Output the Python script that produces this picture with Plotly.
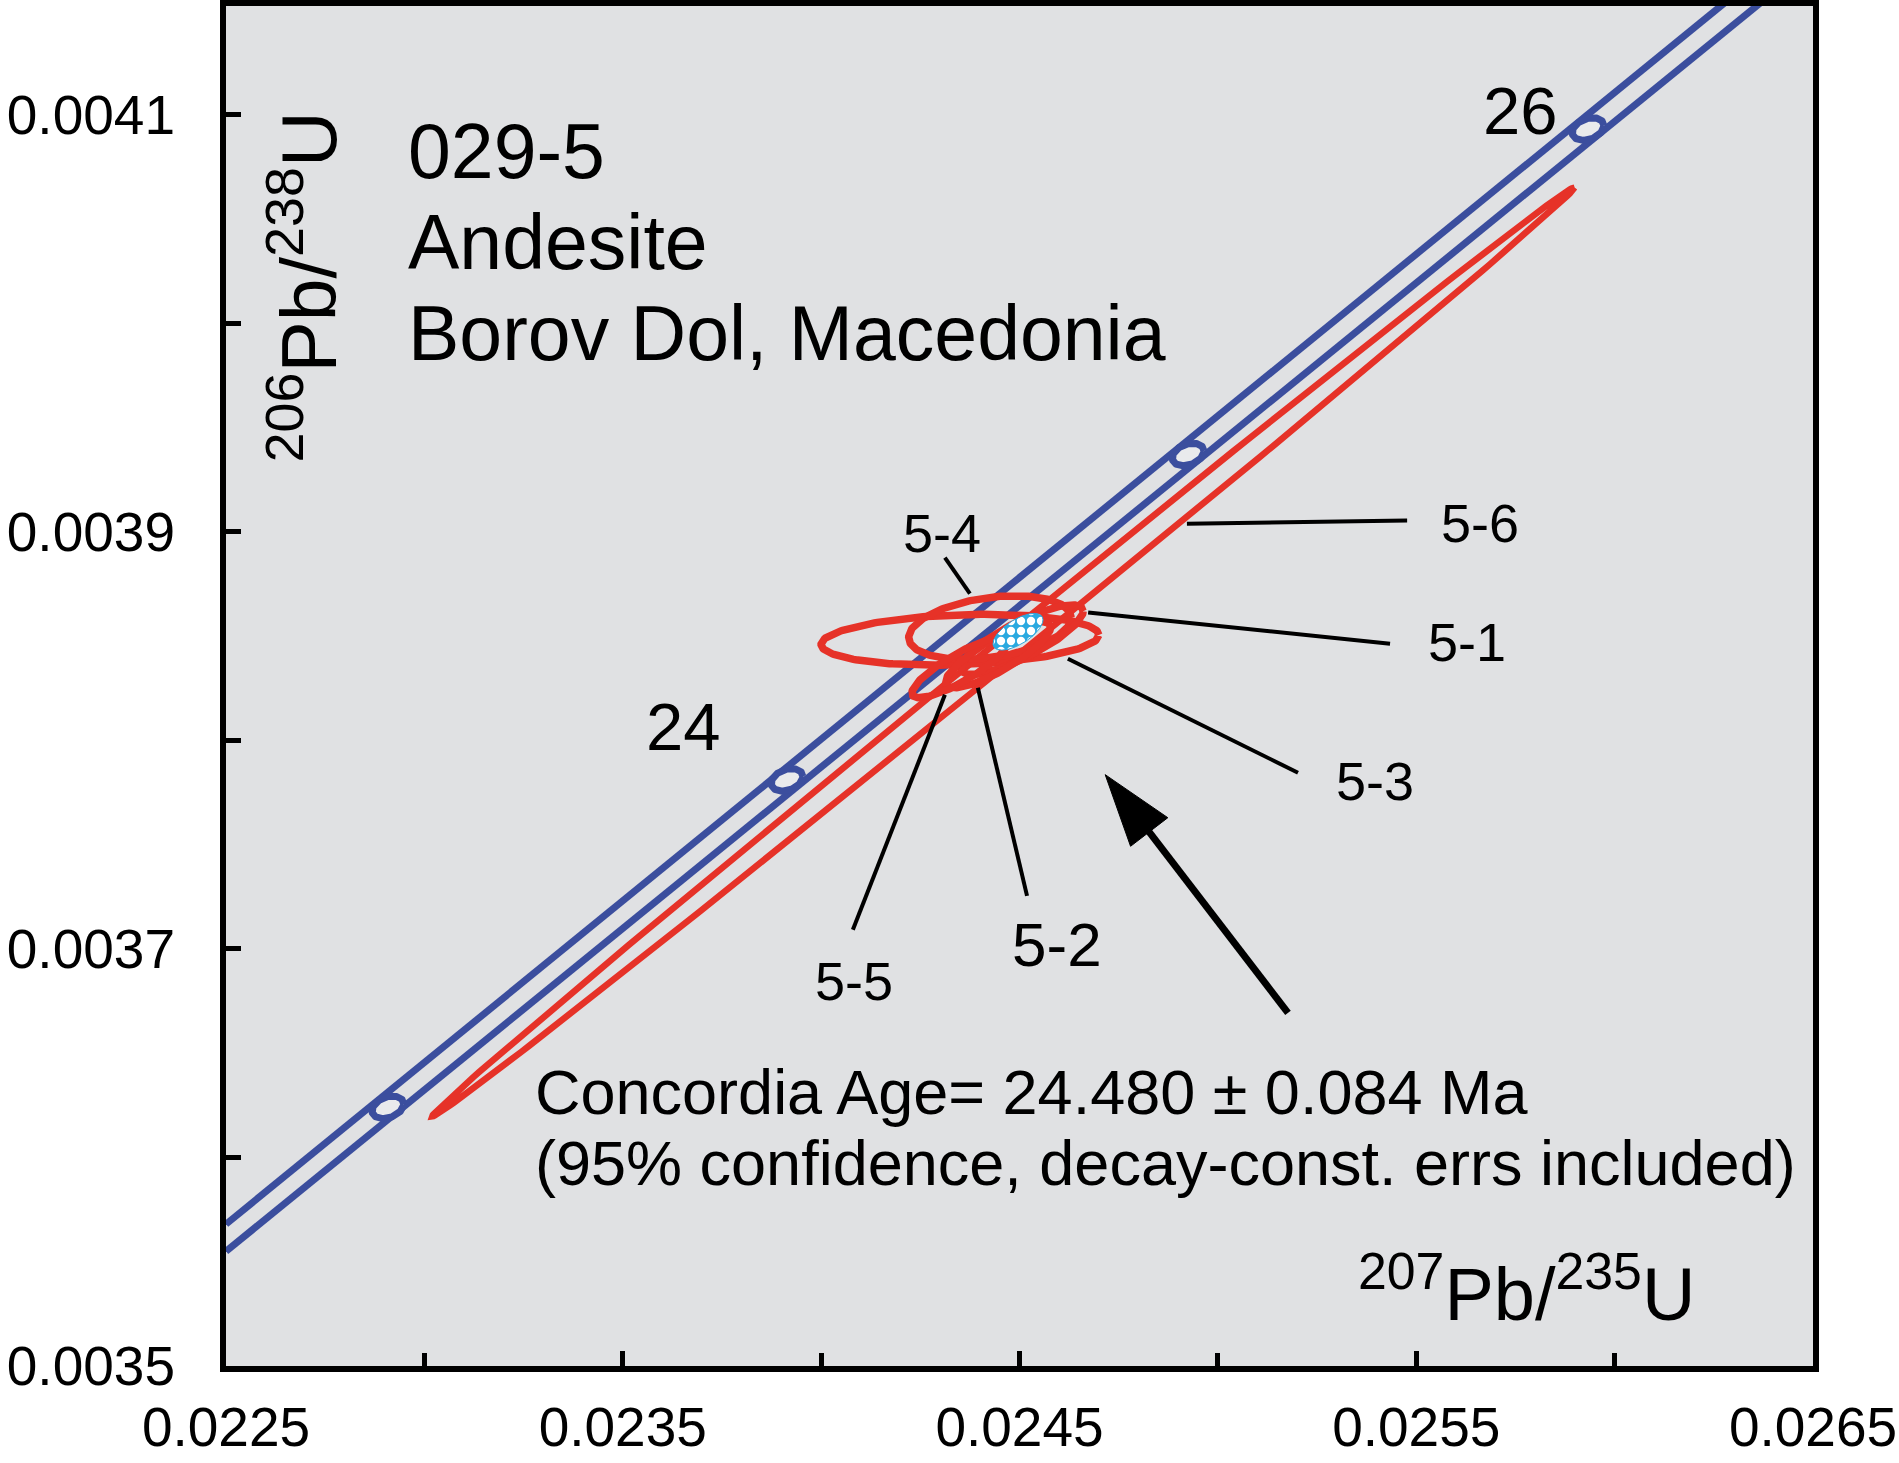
import numpy as np
import plotly.graph_objects as go

# ---------------- data ----------------
x_range = [0.0225, 0.0265]
y_range = [0.0035, 0.004152]
x_tick_vals = [0.0225, 0.0235, 0.0245, 0.0255, 0.0265]
x_tick_text = ["0.0225", "0.0235", "0.0245", "0.0255", "0.0265"]
y_tick_vals = [0.0035, 0.0037, 0.0039, 0.0041]
y_tick_text = ["0.0035", "0.0037", "0.0039", "0.0041"]

# concordia band (decay-constant error envelope), two bounding curves
band_x = [0.0225, 0.0235, 0.0245, 0.0255, 0.0265]
band_upper_y = [0.003568, 0.003723, 0.003878, 0.004033, 0.004188]
band_lower_y = [0.003555, 0.003710, 0.003865, 0.004019, 0.004174]

# age marks on concordia (Ma) and their small error ellipses
age_ma = [23, 24, 25, 26]
age_x = [0.022908, 0.023914, 0.024925, 0.025933]
age_y = [0.003624, 0.003781, 0.003937, 0.004093]
age_sx = [4.0e-5, 4.0e-5, 4.0e-5, 4.0e-5]
age_sy = [5.4e-6, 5.4e-6, 5.4e-6, 5.4e-6]
age_rho = [0.30, 0.30, 0.30, 0.30]

# analysis error ellipses: centre, half-extents, correlation
spot_names = ["5-6", "5-3", "5-4", "5-1", "5-2", "5-5"]
spot_x = [0.0244597, 0.0243500, 0.0244256, 0.0245063, 0.0244458, 0.0243500]
spot_y = [0.0038424, 0.0038482, 0.0038540, 0.0038482, 0.0038410, 0.0038348]
spot_sx = [0.0014396, 0.0003501, 0.0002049, 0.0001541, 0.0001325, 0.0001213]
spot_sy = [0.00022271, 1.221e-5, 1.526e-5, 1.669e-5, 1.585e-5, 1.441e-5]
spot_rho = [0.99947, 0.184, 0.310, 0.818, 0.833, 0.847]

# concordia age ellipse
conc_x, conc_y = 0.0244962, 0.0038520
conc_sx, conc_sy, conc_rho = 6.3e-5, 8.8e-6, 0.65

# spot labels: text, label position, leader line (from, to)
label_names = ["5-6", "5-4", "5-1", "5-3", "5-5", "5-2"]
label_x = [0.025661, 0.024305, 0.025628, 0.025396, 0.024083, 0.024595]
label_y = [0.0039043, 0.0038995, 0.0038472, 0.0037806, 0.0036847, 0.0037019]
label_size = [54, 54, 54, 54, 54, 62]
leader_x0 = [0.024922, 0.024312, 0.024673, 0.024622, 0.024312, 0.024395]
leader_y0 = [0.0039038, 0.0038875, 0.0038612, 0.0038391, 0.0038218, 0.0038252]
leader_x1 = [0.025477, 0.024375, 0.025434, 0.025202, 0.024080, 0.024519]
leader_y1 = [0.0039053, 0.0038703, 0.0038463, 0.0037844, 0.0037091, 0.0037254]

# pointer arrow (tail -> head)
arrow_x = [0.0251767, 0.024716]
arrow_y = [0.0036693, 0.0037835]

BLUE = "#3B4E9E"
RED = "#E63228"
BG = "#E0E1E3"
FONT = "Liberation Sans, Arial, sans-serif"


def ellipse(cx, cy, sx, sy, rho, n=240):
    t = np.linspace(0, 2 * np.pi, n)
    x = cx + sx * np.cos(t)
    y = cy + sy * (rho * np.cos(t) + np.sqrt(1 - rho ** 2) * np.sin(t))
    return x, y


fig = go.Figure()

# concordia band
for by in (band_upper_y, band_lower_y):
    fig.add_trace(go.Scatter(x=band_x, y=by, mode="lines",
                             line=dict(color=BLUE, width=7), hoverinfo="skip"))

# age marks
for i in range(len(age_ma)):
    ex, ey = ellipse(age_x[i], age_y[i], age_sx[i], age_sy[i], age_rho[i])
    fig.add_trace(go.Scatter(x=ex, y=ey, mode="lines", fill="toself",
                             fillcolor="#E9EAEC", line=dict(color=BLUE, width=7),
                             name=f"{age_ma[i]} Ma", hoverinfo="name"))

# analysis ellipses
for i in range(len(spot_names)):
    ex, ey = ellipse(spot_x[i], spot_y[i], spot_sx[i], spot_sy[i], spot_rho[i])
    fig.add_trace(go.Scatter(x=ex, y=ey, mode="lines",
                             line=dict(color=RED, width=7.5 if i else 6.5),
                             name=spot_names[i], hoverinfo="name"))

# concordia age ellipse (checkered fill)
ex, ey = ellipse(conc_x, conc_y, conc_sx, conc_sy, conc_rho)
fig.add_trace(go.Scatter(x=ex, y=ey, mode="lines", fill="toself",
                         fillcolor="#2AA9E0", line=dict(color="#2AA9E0", width=1),
                         fillpattern=dict(shape=".", fgcolor="white", bgcolor="#2AA9E0",
                                          size=10, solidity=0.55, fillmode="replace"),
                         name="Concordia age", hoverinfo="name"))

# leader lines
for i in range(len(label_names)):
    fig.add_trace(go.Scatter(x=[leader_x0[i], leader_x1[i]], y=[leader_y0[i], leader_y1[i]],
                             mode="lines", line=dict(color="black", width=4), hoverinfo="skip"))

# pointer arrow
fig.add_trace(go.Scatter(x=arrow_x, y=arrow_y, mode="lines+markers",
                         line=dict(color="black", width=7),
                         marker=dict(symbol="arrow", size=[0, 76], color="black", opacity=1,
                                     angleref="previous", line=dict(width=1, color="black")),
                         hoverinfo="skip"))

ann = []


def txt(x, y, s, size, xanchor="center", yanchor="middle", **kw):
    ann.append(dict(x=x, y=y, xref="x", yref="y", text=s, showarrow=False,
                    xanchor=xanchor, yanchor=yanchor,
                    font=dict(family=FONT, size=size, color="black"), **kw))


for i in range(len(label_names)):
    txt(label_x[i], label_y[i], label_names[i], label_size[i])

txt(0.025764, 0.0041019, "26", 67)
txt(0.023652, 0.0038065, "24", 67)
txt(0.0229537, 0.0040827, "029-5", 77, xanchor="left")
txt(0.0229537, 0.0040391, "Andesite", 77, xanchor="left")
txt(0.0229537, 0.0039954, "Borov Dol, Macedonia", 77, xanchor="left")
txt(0.023274, 0.0036314, "Concordia Age= 24.480 \u00b1 0.084 Ma", 63, xanchor="left")
txt(0.023274, 0.0035974, "(95% confidence, decay-const. errs included)", 63, xanchor="left")
txt(0.025777, 0.0035369, "<sup>207</sup>Pb/<sup>235</sup>U", 74)
txt(0.022694, 0.0040175, "<sup>206</sup>Pb/<sup>238</sup>U", 77, textangle=-90)

fig.update_layout(
    width=1899, height=1463,
    margin=dict(l=226, r=86, t=6, b=97, autoexpand=False),
    paper_bgcolor="white", plot_bgcolor=BG,
    showlegend=False, annotations=ann,
    font=dict(family=FONT, color="black"),
)
fig.update_xaxes(range=x_range, tickvals=x_tick_vals, ticktext=x_tick_text,
                 ticks="inside", ticklen=15, tickwidth=5, tickcolor="black",
                 minor=dict(tickvals=[0.023, 0.024, 0.025, 0.026], ticks="inside",
                            ticklen=13, tickwidth=5, tickcolor="black"),
                 showline=True, linewidth=6, linecolor="black", mirror=True,
                 showgrid=False, zeroline=False, ticklabelstandoff=8, automargin=False,
                 tickfont=dict(family=FONT, size=55, color="black"))
fig.update_yaxes(range=y_range, tickvals=y_tick_vals, ticktext=y_tick_text,
                 ticks="inside", ticklen=15, tickwidth=5, tickcolor="black",
                 minor=dict(tickvals=[0.0036, 0.0038, 0.0040], ticks="inside",
                            ticklen=15, tickwidth=5, tickcolor="black"),
                 showline=True, linewidth=6, linecolor="black", mirror=True,
                 showgrid=False, zeroline=False, ticklabelstandoff=34, automargin=False,
                 tickfont=dict(family=FONT, size=55, color="black"))

fig.write_html("out.html", config={"displayModeBar": False},
               post_script="document.body.style.margin='0';document.body.style.overflow='hidden';")
